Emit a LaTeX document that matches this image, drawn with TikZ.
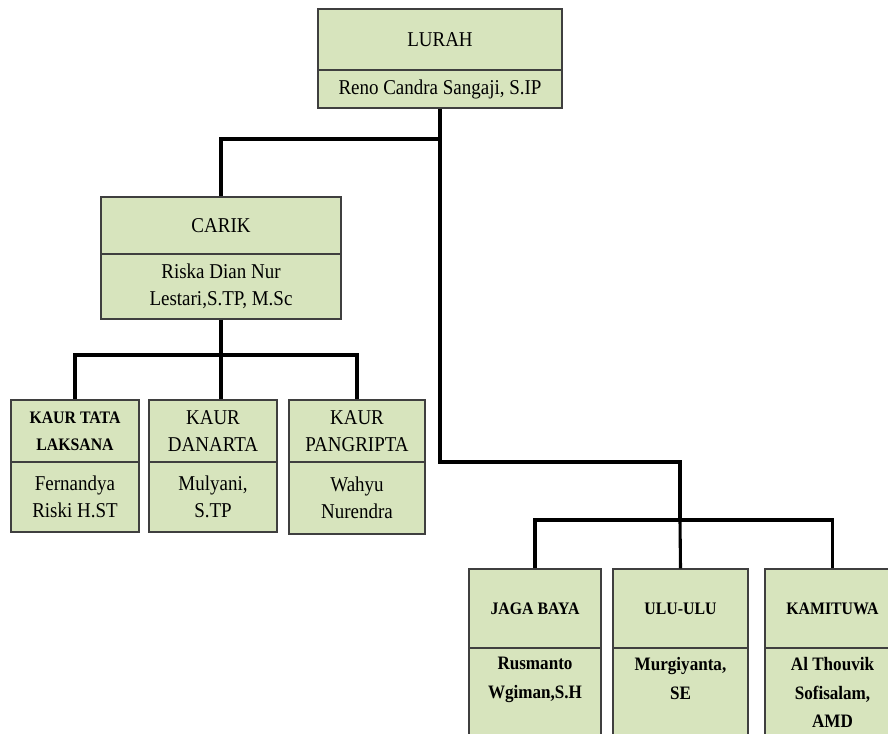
\documentclass[tikz,border=0pt]{standalone}
\usepackage{fontspec}
\setmainfont{Liberation Serif}[FakeStretch=0.9]
\definecolor{hijau}{HTML}{D7E4BD}
\definecolor{bingkai}{HTML}{3F3F3F}
\begin{document}
\begin{tikzpicture}[x=0.025cm, y=-0.025cm,
  kotak/.style={draw=bingkai, line width=1pt, fill=hijau, align=center, inner sep=2pt,
    font=\fontsize{15}{19.5}\selectfont},
  tebal/.style={kotak, font=\fontsize{12.5}{19}\selectfont\bfseries},
  namabwh/.style={kotak, anchor=north, inner ysep=6pt, text depth=2.5cm,
    font=\fontsize{13.5}{20.5}\selectfont\bfseries},
  garis/.style={line width=2.2pt}]
\path[use as bounding box, clip] (0,0) rectangle (888,733);
% lurah
\node[kotak, minimum width=6.1cm, minimum height=1.525cm] (lurah) at (440,39.5) {LURAH};
\node[kotak, minimum width=6.1cm, minimum height=0.95cm] (lurahnm) at (440,89) {Reno Candra Sangaji, S.IP};
% carik
\node[kotak, minimum width=6cm, minimum height=1.425cm] (carik) at (221,225.5) {CARIK};
\node[kotak, minimum width=6cm, minimum height=1.625cm] (cariknm) at (221,286.5) {Riska Dian Nur\\Lestari,S.TP, M.Sc};
% kaur
\node[tebal, minimum width=3.2cm, minimum height=1.55cm] (tata) at (75,431) {KAUR TATA\\LAKSANA};
\node[kotak, minimum width=3.2cm, minimum height=1.75cm] (tatanm) at (75,497) {Fernandya\\Riski H.ST};
\node[kotak, minimum width=3.2cm, minimum height=1.55cm] (danarta) at (213,431) {KAUR\\DANARTA};
\node[kotak, minimum width=3.2cm, minimum height=1.75cm] (danartanm) at (213,497) {Mulyani,\\S.TP};
\node[kotak, minimum width=3.4cm, minimum height=1.55cm] (pangripta) at (357,431) {KAUR\\PANGRIPTA};
\node[kotak, minimum width=3.4cm, minimum height=1.8cm] (pangriptanm) at (357,498) {Wahyu\\Nurendra};
% jaga baya, ulu-ulu, kamituwa
\node[tebal, minimum width=3.3cm, minimum height=1.975cm] (jaga) at (535,608.5) {JAGA BAYA};
\node[namabwh, minimum width=3.3cm] (jaganm) at (535,648) {Rusmanto\\Wgiman,S.H};
\node[tebal, minimum width=3.375cm, minimum height=1.975cm] (ulu) at (680.5,608.5) {ULU-ULU};
\node[namabwh, minimum width=3.375cm] (ulunm) at (680.5,648) {Murgiyanta,\\SE};
\node[tebal, minimum width=3.375cm, minimum height=1.975cm] (kami) at (832.5,608.5) {KAMITUWA};
\node[namabwh, minimum width=3.375cm] (kaminm) at (832.5,648) {Al Thouvik\\Sofisalam,\\AMD};
% garis
\coordinate (j1) at (440,139);
\coordinate (j2) at (680,462);
\coordinate (j3) at (680,520);
\coordinate (j4) at (221,355);
\draw[garis] (lurahnm.south) -- (j1) -| (carik.north);
\draw[garis] (j1) |- (j2) -- (j3);
\draw[garis] (j3) -- (ulu.north);
\draw[garis] (jaga.north) |- (j3) -| (kami.north);
\draw[garis] (cariknm.south) -- (j4) -- (j4 |- danarta.north);
\draw[garis] (tata.north) |- (j4) -| (pangripta.north);
\end{tikzpicture}
\end{document}
